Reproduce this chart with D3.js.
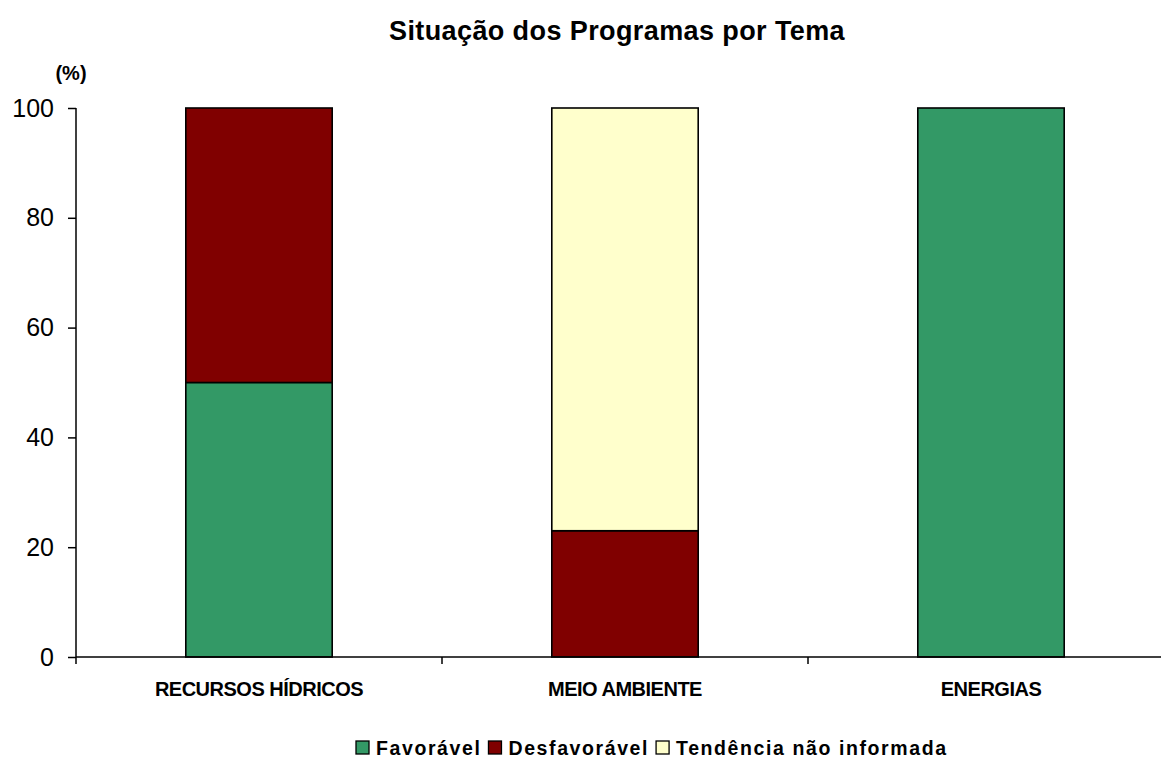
<!DOCTYPE html>
<html>
<head>
<meta charset="utf-8">
<script src="https://cdn.jsdelivr.net/npm/d3@7"></script>
<style>
    body { margin: 0; background: #fff; }
    text { font-family: "Liberation Sans", Arial, sans-serif; fill: #000; }
</style>
</head>
<body>
<svg id="chart" width="1161" height="760"></svg>
<script>
// data
const categories = ["RECURSOS HÍDRICOS", "MEIO AMBIENTE", "ENERGIAS"];
const series = ["Favorável", "Desfavorável", "Tendência não informada"];
const favoravel = [50, 0, 100];
const desfavoravel = [50, 23, 0];
const naoInformada = [0, 77, 0];
const yTicks = [0, 20, 40, 60, 80, 100];
const colors = ["#339966", "#800000", "#FFFFCC"];

(function(){
    let svg = d3.select("#chart");
    let left = 76, top = 108, bottom = 657;
    let right = left + 366 * 3;

    let rows = categories.map((c, i) => ({
        cat: c,
        "Favorável": favoravel[i],
        "Desfavorável": desfavoravel[i],
        "Tendência não informada": naoInformada[i]
    }));
    let stacked = d3.stack().keys(series)(rows);

    let x = d3.scaleBand().domain(categories).range([left, right]).paddingInner(0.6).paddingOuter(0.3);
    let xb = d3.scaleBand().domain(categories).range([left, right]);
    let y = d3.scaleLinear().domain([0, 100]).range([bottom, top]);

    // title
    svg.append("text")
        .attr("x", 617).attr("y", 40)
        .attr("text-anchor", "middle")
        .style("font-size", "27px").style("font-weight", "bold")
        .style("letter-spacing", "0.4px")
        .text("Situação dos Programas por Tema");

    svg.append("text")
        .attr("x", 71).attr("y", 80)
        .attr("text-anchor", "middle")
        .style("font-size", "20px").style("font-weight", "bold")
        .text("(%)");

    // bars
    stacked.forEach((layer, k) => {
        svg.append("g")
            .selectAll("rect")
            .data(layer.filter(d => d[1] - d[0] > 0))
            .join("rect")
            .attr("x", d => x(d.data.cat))
            .attr("width", x.bandwidth())
            .attr("y", d => y(d[1]))
            .attr("height", d => y(d[0]) - y(d[1]))
            .attr("fill", colors[k])
            .attr("stroke", "#000")
            .attr("stroke-width", 1.6);
    });

    // y axis
    let yAxis = svg.append("g")
        .attr("transform", `translate(${left},0)`)
        .call(d3.axisLeft(y).tickValues(yTicks).tickSize(8).tickPadding(14));
    yAxis.selectAll("path, line").attr("stroke", "#000").attr("stroke-width", 1.5);
    yAxis.select(".domain").attr("d", `M0,${top}V${bottom}`);
    yAxis.selectAll("text")
        .style("font-family", "'Liberation Sans', Arial, sans-serif")
        .style("font-size", "25px");

    // x axis
    let xAxisG = svg.append("g").attr("transform", `translate(0,${bottom})`);
    xAxisG.append("line")
        .attr("x1", left).attr("x2", right)
        .attr("stroke", "#000").attr("stroke-width", 1.5);
    xAxisG.selectAll("line.tick")
        .data(categories.concat(["end"]))
        .join("line")
        .attr("class", "tick")
        .attr("x1", (d, i) => i < 3 ? xb(d) : right)
        .attr("x2", (d, i) => i < 3 ? xb(d) : right)
        .attr("y1", 0).attr("y2", 7)
        .attr("stroke", "#000").attr("stroke-width", 1.5);
    xAxisG.selectAll("text")
        .data(categories)
        .join("text")
        .attr("x", d => xb(d) + xb.bandwidth() / 2)
        .attr("y", 39)
        .attr("text-anchor", "middle")
        .style("font-size", "20px").style("font-weight", "bold")
        .style("letter-spacing", "-0.5px")
        .text(d => d);

    // legend
    let legend = svg.append("g").attr("transform", "translate(0,755)");
    let items = legend.selectAll("g").data(series).join("g");
    items.append("rect")
        .attr("width", 13).attr("height", 13).attr("y", -14)
        .attr("fill", (d, i) => colors[i])
        .attr("stroke", "#000").attr("stroke-width", 1.3);
    items.append("text")
        .attr("x", 20)
        .style("font-size", "19.5px").style("font-weight", "bold")
        .style("letter-spacing", "1.6px")
        .text(d => d);
    let pos = 356;
    items.each(function(){
        let g = d3.select(this);
        g.attr("transform", `translate(${pos},0)`);
        pos += 20 + g.select("text").node().getComputedTextLength() + 7;
    });
})();
</script>
</body>
</html>
